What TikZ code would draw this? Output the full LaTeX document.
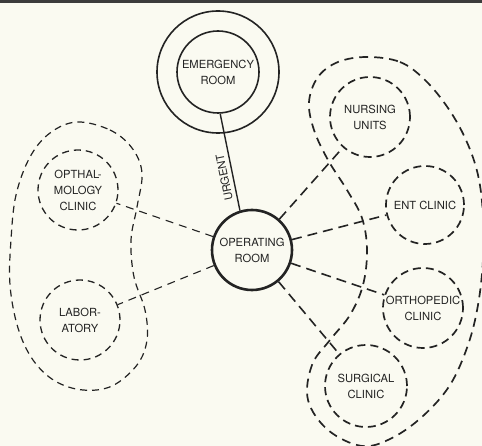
\documentclass[tikz,border=0pt]{standalone}
\usepackage{fontspec}
\setmainfont{TeX Gyre Heros}
\definecolor{paper}{RGB}{250,250,241}
\definecolor{ink}{RGB}{35,35,35}
\definecolor{strip}{RGB}{60,60,60}
\begin{document}
\begin{tikzpicture}[x=1pt,y=-1pt,
  place/.style={circle, draw=ink, inner sep=0pt, align=center, text=ink,
    font=\fontsize{11.2}{16}\selectfont},
  dplace/.style={place, line width=1.7pt, dash pattern=on 8pt off 5pt},
  splace/.style={place, line width=1.6pt},
  conn/.style={draw=ink, line width=1.6pt, dash pattern=on 10pt off 6pt},
  thinconn/.style={draw=ink, line width=1.1pt, dash pattern=on 8pt off 6pt},
  blobline/.style={draw=ink, line width=1.2pt, dash pattern=on 7pt off 5pt},
  bigblob/.style={draw=ink, line width=1.7pt, dash pattern=on 9pt off 6pt},
]
\useasboundingbox (0,0) rectangle (482,446);
\fill[paper] (0,0) rectangle (482,446);
\fill[strip] (0,0) rectangle (482,3);

% groups
\draw[blobline] plot[smooth cycle, tension=0.6] coordinates {
  (77,122) (110,130) (132,148) (142,173) (137,207) (131,240) (134,277)
  (145,310) (147,340) (137,365) (112,386) (83,390) (55,381) (33,360)
  (18,328) (10,285) (11,240) (16,195) (30,157) (50,133)};
\draw[bigblob] plot[smooth cycle, tension=0.6] coordinates {
  (367,57) (400,62) (425,80) (448,108) (466,140) (478,175) (483,215)
  (483,260) (478,305) (468,345) (450,385) (423,416) (392,438) (362,446)
  (328,430) (308,400) (312,365) (330,340) (350,315) (363,285) (367,250)
  (362,218) (347,190) (328,160) (314,130) (309,102) (318,77) (338,62)};

% places
\node[splace, minimum size=122pt] (erout) at (218,72) {};
\node[splace, minimum size=82pt] (er) at (218,72) {EMERGENCY\\ROOM};
\node[place, line width=2.6pt, minimum size=80pt] (or) at (252,250) {OPERATING\\ROOM};
\node[dplace, minimum size=80pt] (nu) at (370,117) {NURSING\\UNITS};
\node[dplace, minimum size=78pt] (ent) at (425,205) {ENT CLINIC};
\node[dplace, minimum size=80pt] (orth) at (423,308) {ORTHOPEDIC\\CLINIC};
\node[dplace, minimum size=82pt] (surg) at (366,386) {SURGICAL\\CLINIC};
\node[place, line width=1.3pt, dash pattern=on 7pt off 5pt, minimum size=80pt] (oph) at (78,190) {OPTHAL-\\MOLOGY\\CLINIC};
\node[place, line width=1.3pt, dash pattern=on 7pt off 5pt, minimum size=80pt] (lab) at (80,320) {LABOR-\\ATORY};

% connectors
\draw[ink, line width=1.4pt] (or.107) -- (er.-87);
\path (or.107) -- (er.-87) node[pos=0.36, sloped, allow upside down, above=1pt,
  text=ink, font=\fontsize{11.2}{13}\selectfont] (urg) {URGENT};
\path[conn] (or) -- (nu);
\path[conn] (or) -- (ent);
\path[conn] (or) -- (orth);
\path[conn] (or) -- (surg);
\path[thinconn] (or) -- (oph);
\path[thinconn] (or) -- (lab);
\end{tikzpicture}
\end{document}
